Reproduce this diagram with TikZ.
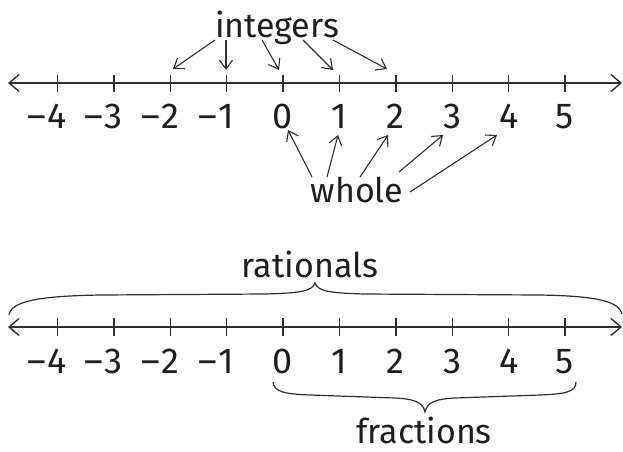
\documentclass[tikz,border=0pt]{standalone}
\usepackage{fontspec}
\setmainfont{Fira Sans}
\usetikzlibrary{arrows.meta}
\definecolor{linegray}{HTML}{2E2E2E}
\definecolor{textblack}{HTML}{1E1E1E}
\begin{document}
\begin{tikzpicture}[x=1pt,y=-1pt,
  numline/.style={draw=linegray, line width=1.4pt,
    {Straight Barb[length=10pt,width=17pt]}-{Straight Barb[length=10pt,width=17pt]}},
  tickmark/.style={draw=linegray, line width=1.4pt},
  num/.style={font=\fontsize{36}{36}\selectfont, text=textblack, inner sep=0pt, anchor=base},
  word/.style={font=\fontsize{34}{34}\selectfont, text=textblack, inner sep=0pt, anchor=base},
  pointer/.style={draw=linegray, line width=1.1pt, -{Straight Barb[length=9pt,width=13pt]}},
  bracepath/.style={draw=linegray, line width=1.2pt}]
\useasboundingbox (0,0) rectangle (623,451);

% ---------- top number line ----------
\coordinate (L1) at (8,83);
\coordinate (R1) at (622,83);
\draw[numline] (L1) -- (R1);
\foreach \d/\m [count=\i from 0] in {4/1,3/1,2/1,1/1,0/0,1/0,2/0,3/0,4/0,5/0}{
  \pgfmathsetmacro{\xx}{57.4+56.4*\i}
  \coordinate (ta\i) at (\xx,75);
  \coordinate (tb\i) at (\xx,92);
  \draw[tickmark] (ta\i) -- (tb\i);
  \node[num] (tn\i) at (\xx,128) {\ifnum\m=1\llap{\textendash\kern1.5pt}\fi\d};
}

% integers
\node[word] (int) at (277,37) {integers};
\coordinate (is1) at (215,40);  \coordinate (ie1) at (173,69);
\coordinate (is2) at (226,40);  \coordinate (ie2) at (226,70);
\coordinate (is3) at (262,40);  \coordinate (ie3) at (279,70);
\coordinate (is4) at (303,40);  \coordinate (ie4) at (333,70);
\coordinate (is5) at (333,40);  \coordinate (ie5) at (387,69);
\foreach \k in {1,...,5}{\draw[pointer] (is\k) -- (ie\k);}

% whole
\node[word] (whl) at (357,202) {whole};
\coordinate (ws1) at (312,177);  \coordinate (we1) at (288,130);
\coordinate (ws2) at (327,177);  \coordinate (we2) at (338,135);
\coordinate (ws3) at (360,177);  \coordinate (we3) at (388,135);
\coordinate (ws4) at (399,172);  \coordinate (we4) at (443,135);
\coordinate (ws5) at (410,192);  \coordinate (we5) at (497,135);
\foreach \k in {1,...,5}{\draw[pointer] (ws\k) -- (we\k);}

% ---------- bottom number line ----------
\coordinate (L2) at (8,327);
\coordinate (R2) at (622,327);
\draw[numline] (L2) -- (R2);
\foreach \d/\m [count=\i from 0] in {4/1,3/1,2/1,1/1,0/0,1/0,2/0,3/0,4/0,5/0}{
  \pgfmathsetmacro{\xx}{57.4+56.4*\i}
  \coordinate (ba\i) at (\xx,318);
  \coordinate (bb\i) at (\xx,336);
  \draw[tickmark] (ba\i) -- (bb\i);
  \node[num] (bn\i) at (\xx,373) {\ifnum\m=1\llap{\textendash\kern1.5pt}\fi\d};
}

% rationals brace
\node[word] (rat) at (310,277) {rationals};
\coordinate (rL) at (9,315);
\coordinate (rT) at (315,283);
\coordinate (rR) at (622,314);
\draw[bracepath] (rL) .. controls (11,301) and (40,296) .. (100,295)
  -- (265,294) .. controls (302,293) and (312,291) .. (rT)
  .. controls (318,291) and (328,293) .. (365,294)
  -- (540,295) .. controls (600,296) and (619,302) .. (rR);

% fractions brace
\node[word] (frc) at (424,443) {fractions};
\coordinate (fL) at (273,382);
\coordinate (fT) at (425,412);
\coordinate (fR) at (576,382);
\draw[bracepath] (fL) .. controls (274,392) and (285,394) .. (310,395)
  -- (395,398) .. controls (416,399) and (423,403) .. (fT)
  .. controls (427,403) and (434,399) .. (455,398)
  -- (540,395) .. controls (565,394) and (576,392) .. (fR);
\end{tikzpicture}
\end{document}
